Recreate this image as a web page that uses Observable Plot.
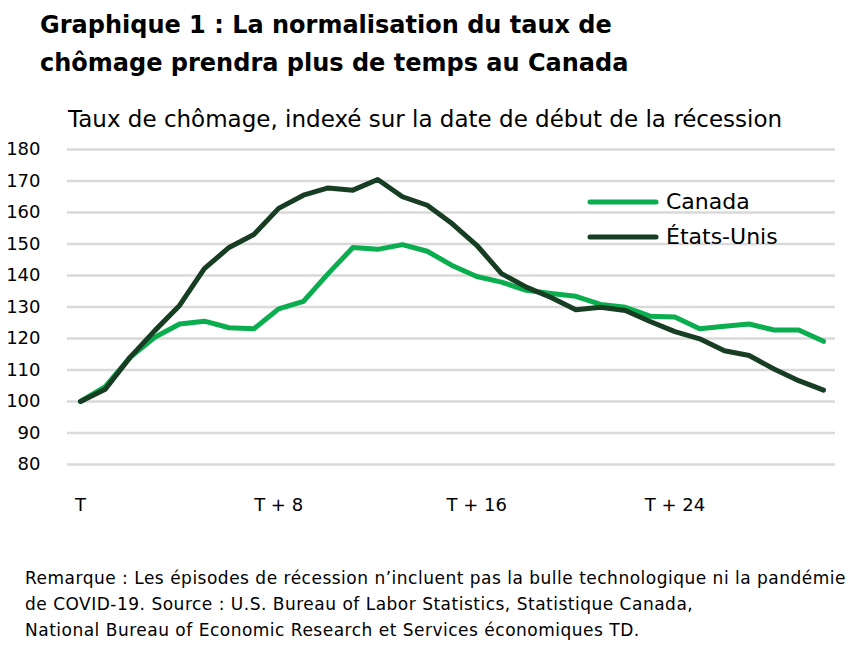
<!DOCTYPE html>
<html>
<head>
<meta charset="utf-8">
<script src="https://cdn.jsdelivr.net/npm/d3@7"></script>
<script src="https://cdn.jsdelivr.net/npm/@observablehq/plot@0.6"></script>
<style>
  body { margin: 0; background: #fff; font-family: "DejaVu Sans", sans-serif; color: #000; }
  #wrap { position: relative; width: 868px; height: 648px; overflow: hidden; }
  .title { position: absolute; left: 40px; top: 5.5px; font-weight: bold; font-size: 24px; line-height: 38.5px; white-space: nowrap; }
  .sub { position: absolute; left: 68px; top: 108px; font-size: 23px; line-height: 23px; white-space: nowrap; }
  #chart { position: absolute; left: 0; top: 135px; }
  #legend { position: absolute; left: 586px; top: 184px; font-size: 22px; }
  #legend .row { display: flex; align-items: center; height: 35px; }
  #legend svg { margin-right: 6px; }
  .note { position: absolute; left: 25px; top: 565px; font-size: 17px; letter-spacing: 0.5px; line-height: 26px; white-space: nowrap; }
</style>
</head>
<body>
<div id="wrap">
  <div class="title">Graphique 1 : La normalisation du taux de<br>chômage prendra plus de temps au Canada</div>
  <div class="sub">Taux de chômage, indexé sur la date de début de la récession</div>
  <div id="chart"></div>
  <div id="legend"></div>
  <div class="note">Remarque : Les épisodes de récession n’incluent pas la bulle technologique ni la pandémie<br>de COVID-19. Source : U.S. Bureau of Labor Statistics, Statistique Canada,<br>National Bureau of Economic Research et Services économiques TD.</div>
</div>
<script>
const periods = [0,1,2,3,4,5,6,7,8,9,10,11,12,13,14,15,16,17,18,19,20,21,22,23,24,25,26,27,28,29,30];
const canada = [100,104.7,114,120.4,124.6,125.5,123.4,123.1,129.4,131.8,140.6,148.9,148.3,149.8,147.7,143.2,139.7,137.9,135.3,134.3,133.4,130.8,129.9,127.1,126.8,123.1,123.9,124.6,122.7,122.7,119.1];
const us = [100,103.9,114.0,122.5,130.5,142.2,148.9,153.0,161.3,165.5,167.8,167.1,170.5,165.0,162.3,156.5,149.6,140.6,136.3,133.0,129.1,129.9,128.9,125.4,122.2,119.9,116.1,114.6,110.3,106.6,103.6];
const seriesNames = ["Canada", "États-Unis"];
const seriesColors = ["#0aae4e", "#173d22"];
const xTicks = [0, 8, 16, 24];
const xTickLabels = ["T", "T + 8", "T + 16", "T + 24"];
const yTicks = [80, 90, 100, 110, 120, 130, 140, 150, 160, 170, 180];

const rows = [];
periods.forEach((p, i) => {
  rows.push({t: p, v: canada[i], s: seriesNames[0]});
});
periods.forEach((p, i) => {
  rows.push({t: p, v: us[i], s: seriesNames[1]});
});

const chart = Plot.plot({
  width: 868,
  height: 390,
  marginLeft: 67,
  marginRight: 33,
  marginTop: 14,
  marginBottom: 61,
  insetLeft: 13,
  insetRight: 12,
  style: {fontFamily: "DejaVu Sans, sans-serif", fontSize: "18px", color: "#000", background: "#fff"},
  x: {domain: [0, 30]},
  y: {domain: [80, 180]},
  color: {domain: seriesNames, range: seriesColors},
  marks: [
    Plot.ruleY(yTicks, {stroke: "#d9d9d9", strokeWidth: 2.5}),
    Plot.axisY({ticks: yTicks, tickSize: 0, tickPadding: 27, label: null, fontSize: 18, fill: "#000"}),
    Plot.axisX({ticks: xTicks, tickFormat: d => xTickLabels[xTicks.indexOf(d)], tickSize: 0, tickPadding: 34, label: null, fontSize: 18, fill: "#000"}),
    Plot.line(rows, {x: "t", y: "v", z: "s", stroke: "s", strokeWidth: 5, strokeLinejoin: "round", strokeLinecap: "round"})
  ]
});
document.getElementById("chart").appendChild(chart);

const legend = document.getElementById("legend");
seriesNames.forEach((n, i) => {
  const row = document.createElement("div");
  row.className = "row";
  row.innerHTML = `<svg width="74" height="10"><line x1="4" y1="5" x2="70" y2="5" stroke="${seriesColors[i]}" stroke-width="5" stroke-linecap="round"/></svg><span>${n}</span>`;
  legend.appendChild(row);
});
</script>
</body>
</html>
